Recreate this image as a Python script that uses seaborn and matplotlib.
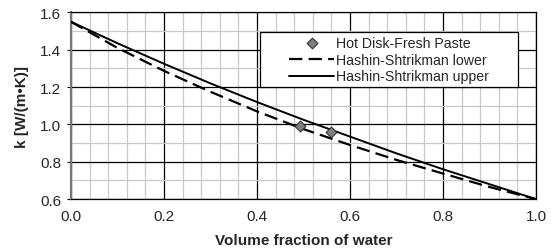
import numpy as np
import pandas as pd
import matplotlib
matplotlib.use("Agg")
import matplotlib.pyplot as plt
import seaborn as sns
from matplotlib.ticker import MultipleLocator
from matplotlib.patches import Rectangle

# data
water_frac = [0.0, 0.1, 0.2, 0.3, 0.4, 0.5, 0.6, 0.7, 0.8, 0.9, 1.0]
k_upper = [1.55, 1.435, 1.325, 1.22, 1.12, 1.025, 0.935, 0.845, 0.76, 0.68, 0.60]
k_lower = [1.55, 1.41, 1.287, 1.175, 1.07, 0.975, 0.89, 0.81, 0.737, 0.665, 0.60]
hot_disk_x = [0.492, 0.56]
hot_disk_k = [0.99, 0.957]

sns.set_style("white")
plt.rcParams["font.family"] = ["Liberation Sans", "DejaVu Sans"]

fig, ax = plt.subplots(figsize=(5.54, 2.53), dpi=100)
fig.subplots_adjust(left=0.128, right=0.9675, top=0.947, bottom=0.209)

df_curves = pd.DataFrame({"x": water_frac, "upper": k_upper, "lower": k_lower})
df_pts = pd.DataFrame({"x": hot_disk_x, "k": hot_disk_k})

sns.scatterplot(data=df_pts, x="x", y="k", ax=ax, marker="D", s=30,
                color="#808080", edgecolor="#333333", linewidth=0.8,
                label="Hot Disk-Fresh Paste", zorder=5)
sns.lineplot(data=df_curves, x="x", y="lower", ax=ax, color="black",
             linewidth=1.6, dashes=False, label="Hashin-Shtrikman lower", zorder=4)
ax.lines[-1].set_dashes([6, 2.8])
sns.lineplot(data=df_curves, x="x", y="upper", ax=ax, color="black",
             linewidth=1.4, label="Hashin-Shtrikman upper", zorder=4)

ax.set_xlim(0, 1.0)
ax.set_ylim(0.6, 1.6)
ax.xaxis.set_major_locator(MultipleLocator(0.2))
ax.xaxis.set_minor_locator(MultipleLocator(0.04))
ax.yaxis.set_major_locator(MultipleLocator(0.2))
ax.yaxis.set_minor_locator(MultipleLocator(0.1))
ax.xaxis.set_major_formatter(matplotlib.ticker.FormatStrFormatter("%.1f"))
ax.yaxis.set_major_formatter(matplotlib.ticker.FormatStrFormatter("%.1f"))

ax.grid(which="minor", color="#c8c8c8", linewidth=0.9)
ax.grid(which="major", color="black", linewidth=0.9)
ax.set_axisbelow(True)
ax.tick_params(axis="both", which="major", labelsize=11, length=3,
               direction="out", color="black", left=True, bottom=False, pad=4)
ax.tick_params(which="minor", length=0)

for sp in ax.spines.values():
    sp.set_color("black")
    sp.set_linewidth(0.9)
ax.spines["left"].set_color("#777777")
ax.spines["left"].set_linewidth(1.6)

ax.set_xlabel("Volume fraction of water", fontsize=11, fontweight="bold", labelpad=7)
ax.set_ylabel("k [W/(m•K)]", fontsize=11, fontweight="bold", labelpad=8)

# legend box drawn separately so the entries sit centred inside it
box = Rectangle((0.406, 0.6), 0.555, 0.294, transform=ax.transAxes,
                facecolor="white", edgecolor="black", linewidth=0.9, zorder=6)
ax.add_patch(box)
leg = ax.legend(loc="center", bbox_to_anchor=(0.6835, 0.747), fontsize=10.2,
                frameon=False, handlelength=3.2, handletextpad=0.1,
                borderpad=0, labelspacing=0.2)
leg.set_zorder(7)

fig.savefig("out.png", dpi=100)
